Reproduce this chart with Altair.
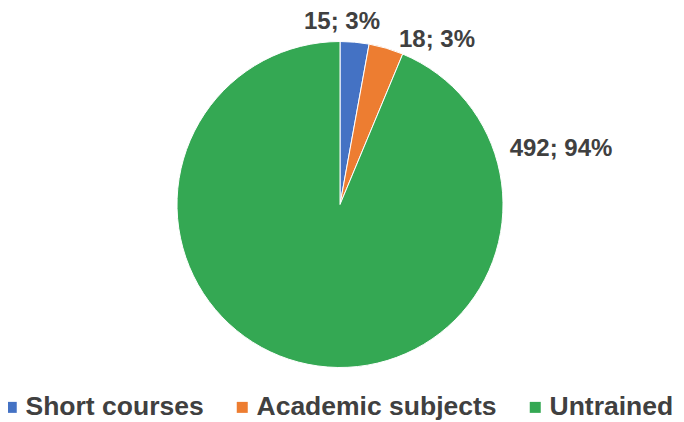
import altair as alt
import pandas as pd

categories = ["Short courses", "Academic subjects", "Untrained"]
counts = [15, 18, 492]
percents = ["3%", "3%", "94%"]
colors = ["#4472C4", "#ED7D31", "#34A853"]

df = pd.DataFrame({
    "category": categories,
    "value": counts,
    "idx": list(range(len(categories))),
    "label": [f"{c}; {p}" for c, p in zip(counts, percents)],
})

base = alt.Chart(df)

pie = base.mark_arc(outerRadius=163, stroke="white", strokeWidth=1).encode(
    x=alt.value(332),
    y=alt.value(196.5),
    theta=alt.Theta("value:Q", stack=True),
    color=alt.Color(
        "category:N",
        scale=alt.Scale(domain=categories, range=colors),
        sort=categories,
        legend=alt.Legend(
            title=None,
            orient="none",
            legendX=-10,
            legendY=386,
            direction="horizontal",
            symbolType="square",
            symbolSize=121,
            symbolStrokeWidth=0,
            labelFont="Liberation Sans",
            labelFontWeight="bold",
            labelFontSize=26.5,
            labelColor="#404040",
            labelLimit=400,
            labelOffset=1,
            columnPadding=25,
            padding=0,
        ),
    ),
    order=alt.Order("idx:Q"),
)

label_pos = [(334, 14), (429, 32), (553, 141)]
layers = [pie]
for cat, (lx, ly) in zip(categories, label_pos):
    layers.append(
        base.transform_filter(alt.datum.category == cat)
        .mark_text(font="Liberation Sans", fontWeight="bold", fontSize=24,
                   color="#404040", align="center", baseline="middle")
        .encode(x=alt.value(lx), y=alt.value(ly), text="label:N")
    )

chart = alt.layer(*layers).properties(
    width=668, height=413, padding=0, autosize=alt.AutoSizeParams(type="none")
).configure_view(stroke=None)

chart.save("out.html", embed_options={"renderer": "svg", "actions": False})
